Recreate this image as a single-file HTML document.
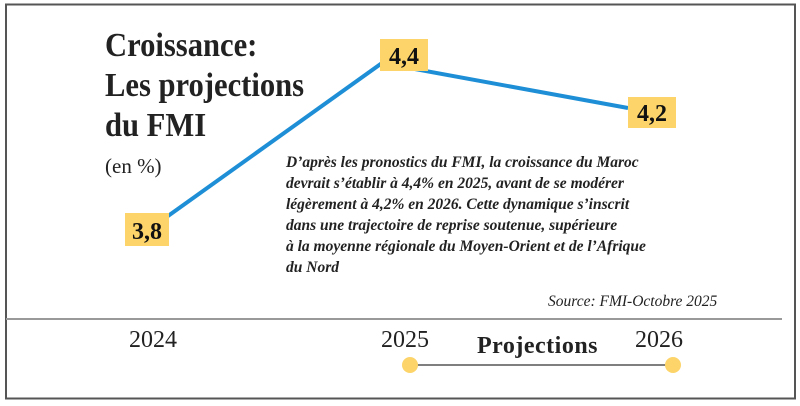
<!DOCTYPE html>
<html><head><style>
body{margin:0;background:#fff;}
svg{display:block;font-family:"Liberation Serif",serif;}
</style></head><body>
<svg width="800" height="406" viewBox="0 0 800 406" xmlns="http://www.w3.org/2000/svg">
<rect x="0" y="0" width="800" height="406" fill="#fff"/>
<rect x="6" y="4.5" width="789" height="394" fill="none" stroke="#555" stroke-width="2"/>
<g transform="translate(105,0) scale(0.9,1)" font-size="34" font-weight="bold" fill="#222">
<text x="0" y="56">Croissance:</text>
<text x="0" y="96">Les projections</text>
<text x="0" y="136">du FMI</text>
</g>
<text x="105" y="173" font-size="21" fill="#222">(en %)</text>
<polyline points="168,216 382,63 628,108" fill="none" stroke="#1e8fd6" stroke-width="4"/>
<rect x="125" y="213" width="44" height="33" fill="#fcd46a"/>
<text x="147" y="239" font-size="24" font-weight="bold" text-anchor="middle" fill="#111">3,8</text>
<rect x="380" y="39" width="48" height="32" fill="#fcd46a"/>
<text x="404" y="64" font-size="24" font-weight="bold" text-anchor="middle" fill="#111">4,4</text>
<rect x="628" y="97" width="48" height="31" fill="#fcd46a"/>
<text x="652" y="121" font-size="24" font-weight="bold" text-anchor="middle" fill="#111">4,2</text>
<g font-size="15.5" font-style="italic" font-weight="bold" fill="#222">
<text x="286" y="167">D’après les pronostics du FMI, la croissance du Maroc</text>
<text x="286" y="188">devrait s’établir à 4,4% en 2025, avant de se modérer</text>
<text x="286" y="209">légèrement à 4,2% en 2026. Cette dynamique s’inscrit</text>
<text x="286" y="230">dans une trajectoire de reprise soutenue, supérieure</text>
<text x="286" y="251">à la moyenne régionale du Moyen-Orient et de l’Afrique</text>
<text x="286" y="272">du Nord</text>
</g>
<text x="548" y="306" font-size="15.5" font-style="italic" fill="#222">Source: FMI-Octobre 2025</text>
<line x1="6" y1="319" x2="782" y2="319" stroke="#999" stroke-width="2"/>
<text x="129" y="347" font-size="24" fill="#222">2024</text>
<text x="381" y="347" font-size="24" fill="#222">2025</text>
<text x="635" y="347" font-size="24" fill="#222">2026</text>
<text x="477" y="353" font-size="24" font-weight="bold" fill="#222" letter-spacing="0.5">Projections</text>
<line x1="410" y1="365" x2="673" y2="365" stroke="#555" stroke-width="1.5"/>
<circle cx="410" cy="365" r="8" fill="#fcd46a"/>
<circle cx="673" cy="365" r="8" fill="#fcd46a"/>
</svg>
</body></html>
